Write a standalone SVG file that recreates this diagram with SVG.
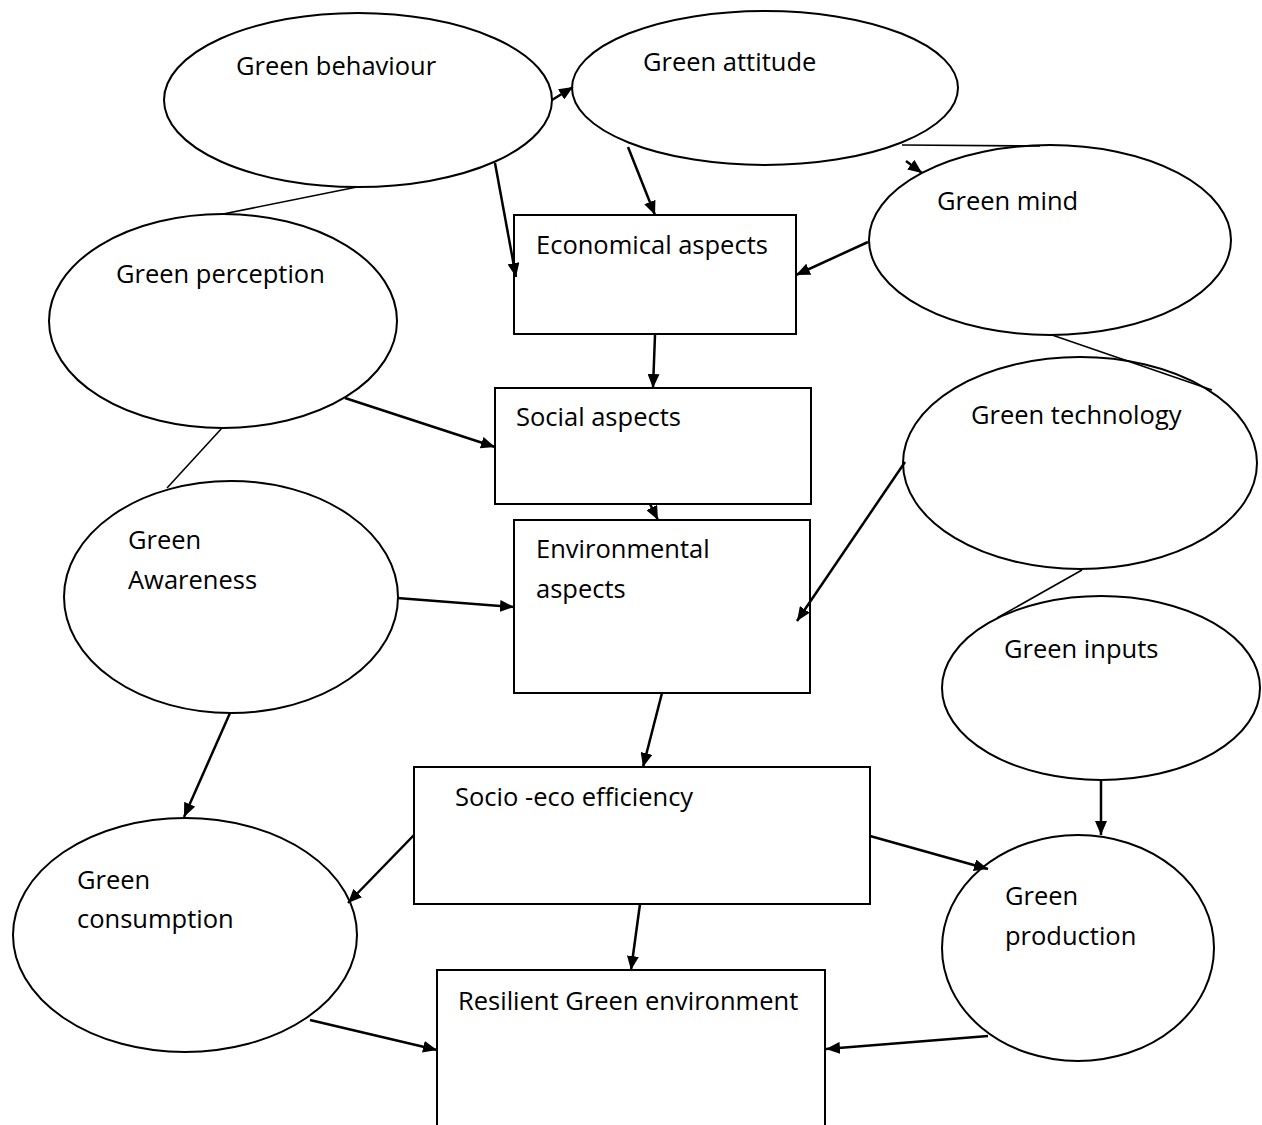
<svg xmlns="http://www.w3.org/2000/svg" width="1262" height="1125" viewBox="0 0 1262 1125">
  <defs>
    <marker id="arrow" viewBox="0 0 14 12" refX="14" refY="6" markerWidth="14" markerHeight="12" markerUnits="userSpaceOnUse" orient="auto">
      <path d="M0,0 L14,6 L0,12 Z" fill="#000"/>
    </marker>
  </defs>
  <style>
    .shape { fill: #fff; stroke: #000; stroke-width: 2; }
    .link { fill: none; stroke: #000; stroke-width: 2.5; }
    .plain { fill: none; stroke: #000; stroke-width: 1.6; }
    .arr { marker-end: url(#arrow); }
    text { font-family: "Open Sans", "Liberation Sans", sans-serif; font-size: 25.5px; fill: #000; }
  </style>
  <rect width="1262" height="1125" fill="#fff"/>

  <g id="green-behaviour"><ellipse class="shape" cx="358" cy="100" rx="194" ry="87"/><text x="236" y="75">Green behaviour</text></g>
  <g id="green-attitude"><ellipse class="shape" cx="765" cy="88" rx="193" ry="77"/><text x="643" y="71">Green attitude</text></g>
  <g id="green-mind"><ellipse class="shape" cx="1050" cy="240" rx="181" ry="95"/><text x="937" y="210">Green mind</text></g>
  <g id="green-perception"><ellipse class="shape" cx="223" cy="321" rx="174" ry="107"/><text x="116" y="283">Green perception</text></g>
  <g id="green-technology"><ellipse class="shape" cx="1080" cy="463" rx="177" ry="106"/><text x="971" y="424">Green technology</text></g>
  <g id="green-awareness"><ellipse class="shape" cx="231" cy="597" rx="167" ry="116"/><text x="128" y="549">Green</text><text x="128" y="589">Awareness</text></g>
  <g id="green-inputs"><ellipse class="shape" cx="1101" cy="688" rx="159" ry="92"/><text x="1004" y="658">Green inputs</text></g>
  <g id="green-consumption"><ellipse class="shape" cx="185" cy="935" rx="172" ry="117"/><text x="77" y="889">Green</text><text x="77" y="928">consumption</text></g>
  <g id="green-production"><ellipse class="shape" cx="1078" cy="948" rx="136" ry="113"/><text x="1005" y="905">Green</text><text x="1005" y="945">production</text></g>

  <g id="economical-aspects"><rect class="shape" x="514" y="215" width="282" height="119"/><text x="536" y="254">Economical aspects</text></g>
  <g id="social-aspects"><rect class="shape" x="495" y="388" width="316" height="116"/><text x="516" y="426">Social aspects</text></g>
  <g id="environmental-aspects"><rect class="shape" x="514" y="520" width="296" height="173"/><text x="536" y="558">Environmental</text><text x="536" y="598">aspects</text></g>
  <g id="socio-eco-efficiency"><rect class="shape" x="414" y="767" width="456" height="137"/><text x="455" y="806">Socio -eco efficiency</text></g>
  <g id="resilient-green-environment"><rect class="shape" x="437" y="970" width="388" height="170"/><text x="458" y="1010">Resilient Green environment</text></g>

  <!-- connectors: plain ties, then directed arrows -->
  <g id="connectors">
    <line class="plain" x1="902" y1="145" x2="1040" y2="146"/>
    <line class="plain" x1="1052" y1="335" x2="1212" y2="390"/>
    <line class="plain" x1="1082" y1="570" x2="997" y2="618"/>
    <line class="plain" x1="223" y1="214" x2="357" y2="187"/>
    <line class="plain" x1="222" y1="428" x2="167" y2="488"/>

    <line class="link arr" x1="552" y1="100" x2="573" y2="87"/>
    <line class="link arr" x1="495" y1="163" x2="516" y2="277"/>
    <line class="link arr" x1="628" y1="147" x2="655" y2="215"/>
    <line class="link arr" x1="906" y1="161" x2="922" y2="173"/>
    <line class="link arr" x1="868" y1="242" x2="796" y2="275"/>
    <line class="link arr" x1="655" y1="335" x2="653" y2="388"/>
    <line class="link arr" x1="650" y1="504" x2="658" y2="520"/>
    <line class="link arr" x1="345" y1="398" x2="495" y2="447"/>
    <line class="link arr" x1="905" y1="462" x2="797" y2="621"/>
    <line class="link arr" x1="397" y1="598" x2="514" y2="607"/>
    <line class="link arr" x1="662" y1="693" x2="643" y2="767"/>
    <line class="link arr" x1="230" y1="713" x2="184" y2="817"/>
    <line class="link arr" x1="414" y1="835" x2="348" y2="903"/>
    <line class="link arr" x1="640" y1="904" x2="631" y2="970"/>
    <line class="link arr" x1="870" y1="836" x2="988" y2="869"/>
    <line class="link arr" x1="1101" y1="780" x2="1101" y2="835"/>
    <line class="link arr" x1="310" y1="1020" x2="437" y2="1050"/>
    <line class="link arr" x1="988" y1="1036" x2="826" y2="1049"/>
  </g>
</svg>
